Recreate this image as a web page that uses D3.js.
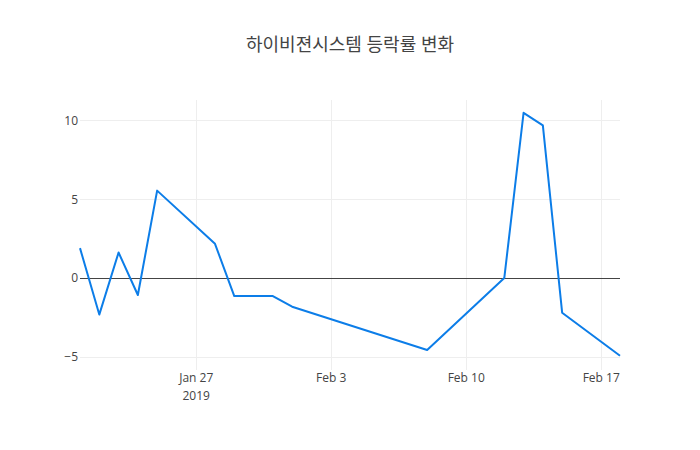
<!DOCTYPE html>
<html>
<head>
<meta charset="utf-8">
<script src="https://cdn.jsdelivr.net/npm/d3@7"></script>
<style>
  body { margin: 0; background: #fff; }
  text { font-family: "Open Sans", "Noto Sans CJK KR", sans-serif; fill: #444; }
</style>
</head>
<body>
<svg id="chart" width="700" height="450"></svg>
<script>
// 등락률 (%) by trading day
const dates = [
    '2019-01-21', '2019-01-22', '2019-01-23', '2019-01-24', '2019-01-25',
    '2019-01-28', '2019-01-29', '2019-01-31', '2019-02-01', '2019-02-08',
    '2019-02-12', '2019-02-13', '2019-02-14', '2019-02-15', '2019-02-18'
]
const changes = [
    1.9, -2.31, 1.62, -1.07, 5.54,
    2.17, -1.14, -1.14, -1.81, -4.55,
    0.0, 10.47, 9.67, -2.19, -4.92
]
const xTicks = ['2019-01-27', '2019-02-03', '2019-02-10', '2019-02-17']
const yTicks = [-5, 0, 5, 10]
const title = '하이비젼시스템 등락률 변화'

const parse = d3.timeParse('%Y-%m-%d')
const points = dates.map((d, i) => ({date: parse(d), value: changes[i]}))

const margin = {top: 100, right: 80, bottom: 80, left: 80}
const width = 700, height = 450
const svg = d3.select('#chart')

const x = d3.scaleTime()
    .domain([parse('2019-01-21'), parse('2019-02-18')])
    .range([margin.left, width - margin.right])

const y = d3.scaleLinear()
    .domain([-5.82, 11.28])
    .range([height - margin.bottom, margin.top])

const crisp = v => Math.round(v) + 0.5

// grid
svg.append('g')
    .selectAll('line')
    .data(xTicks.map(parse))
    .join('line')
    .attr('x1', d => crisp(x(d))).attr('x2', d => crisp(x(d)))
    .attr('y1', margin.top).attr('y2', height - margin.bottom)
    .attr('stroke', '#eee')

svg.append('g')
    .selectAll('line')
    .data(yTicks.filter(v => v !== 0))
    .join('line')
    .attr('x1', margin.left).attr('x2', width - margin.right)
    .attr('y1', d => crisp(y(d))).attr('y2', d => crisp(y(d)))
    .attr('stroke', '#eee')

// zero line
svg.append('line')
    .attr('x1', margin.left).attr('x2', width - margin.right)
    .attr('y1', crisp(y(0))).attr('y2', crisp(y(0)))
    .attr('stroke', '#444')
    .attr('stroke-width', 1)

// axes (labels only, plotly style)
const xAxis = svg.append('g')
    .attr('transform', 'translate(0,' + (height - margin.bottom) + ')')
    .call(d3.axisBottom(x).tickValues(xTicks.map(parse)).tickFormat(d3.timeFormat('%b %-d')).tickSize(0).tickPadding(3))
xAxis.select('.domain').remove()
xAxis.selectAll('text').attr('font-size', 12).attr('fill', '#444')
xAxis.selectAll('.tick').filter((d, i) => i === 0)
    .append('text')
    .attr('y', 21)
    .attr('dy', '0.71em')
    .attr('text-anchor', 'middle')
    .attr('font-size', 12)
    .text('2019')

const yAxis = svg.append('g')
    .attr('transform', 'translate(' + margin.left + ',0)')
    .call(d3.axisLeft(y).tickValues(yTicks).tickFormat(d => d3.format('d')(d).replace('-', '\u2212')).tickSize(0).tickPadding(2))
yAxis.select('.domain').remove()
yAxis.selectAll('text').attr('font-size', 12).attr('fill', '#444')

// line
const line = d3.line()
    .x(d => x(d.date))
    .y(d => y(d.value))

svg.append('path')
    .datum(points)
    .attr('d', line)
    .attr('fill', 'none')
    .attr('stroke', '#0c7de8')
    .attr('stroke-width', 2)
    .attr('stroke-linejoin', 'round')

// title
svg.append('text')
    .attr('x', width / 2)
    .attr('y', 51)
    .attr('text-anchor', 'middle')
    .attr('font-size', 18)
    .text(title)
</script>
</body>
</html>
